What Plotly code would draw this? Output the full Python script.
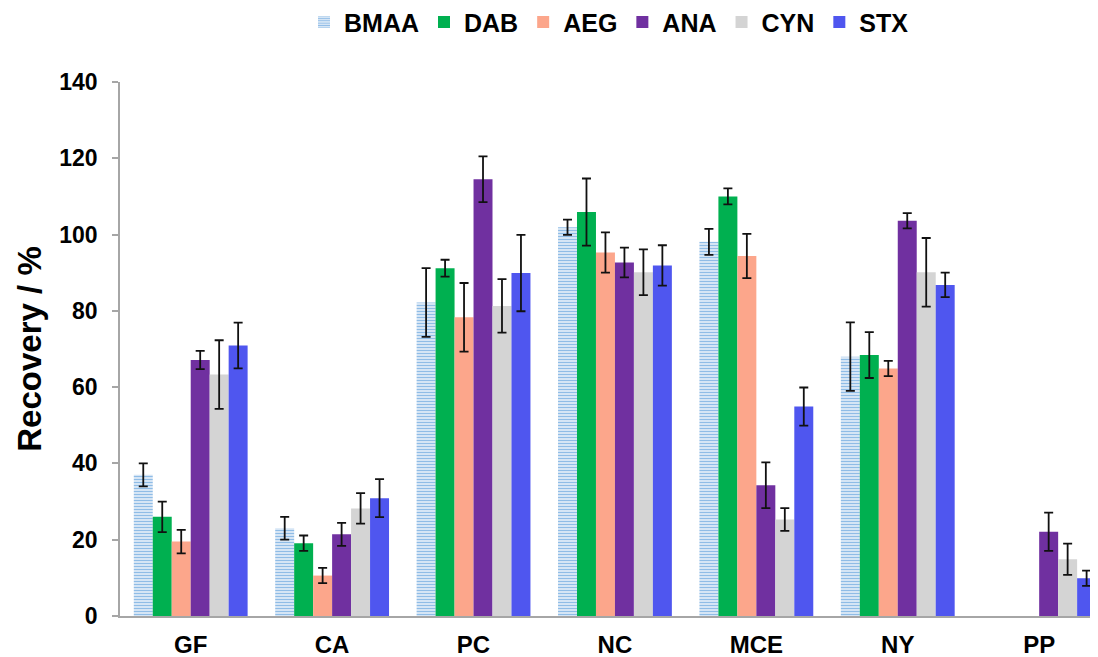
import plotly.graph_objects as go

categories = ["GF", "CA", "PC", "NC", "MCE", "NY", "PP"]
series_names = ["BMAA", "DAB", "AEG", "ANA", "CYN", "STX"]

# None = not recovered (no bar drawn)
bmaa = [37.0, 23.0, 82.2, 101.9, 98.1, 68.0, None]
bmaa_err = [3.0, 3.0, 9.0, 2.0, 3.4, 9.0, None]
dab = [26.0, 19.1, 91.2, 105.9, 110.0, 68.4, None]
dab_err = [4.0, 2.0, 2.2, 8.8, 2.1, 6.0, None]
aeg = [19.5, 10.6, 78.3, 95.3, 94.4, 64.9, None]
aeg_err = [3.1, 2.0, 9.0, 5.3, 5.8, 2.0, None]
ana = [67.1, 21.4, 114.5, 92.7, 34.3, 103.6, 22.1]
ana_err = [2.4, 3.0, 6.0, 3.9, 6.0, 2.0, 5.0]
cyn = [63.3, 28.2, 81.3, 90.1, 25.3, 90.1, 14.9]
cyn_err = [9.0, 4.0, 7.0, 6.0, 3.0, 9.0, 4.1]
stx = [70.9, 30.9, 89.9, 91.9, 54.9, 86.8, 9.9]
stx_err = [6.0, 5.0, 10.0, 5.3, 5.0, 3.2, 2.0]

values = [bmaa, dab, aeg, ana, cyn, stx]
errors = [bmaa_err, dab_err, aeg_err, ana_err, cyn_err, stx_err]
colors = ["#d9e8f7", "#00b050", "#fca68b", "#7030a0", "#d4d4d4", "#4f56ef"]

FONT = "Arial, Liberation Sans, sans-serif"

fig = go.Figure()
for i, name in enumerate(series_names):
    marker = dict(color=colors[i], line=dict(width=0))
    if name == "BMAA":
        marker["pattern"] = dict(shape="-", size=3, solidity=0.45,
                                 fgcolor="#8fbce6", bgcolor="#e4eef9",
                                 fillmode="replace")
    fig.add_trace(go.Bar(
        name=name,
        x=categories,
        y=values[i],
        marker=marker,
        error_y=dict(type="data", array=errors[i],
                     visible=True, color="#111111", thickness=1.8, width=4.5),
    ))

# the page body adds an 8 px offset, so the figure is drawn 8 px smaller
fig.update_layout(
    width=1090, height=649,
    barmode="group",
    bargap=0.195,
    bargroupgap=0,
    plot_bgcolor="white",
    paper_bgcolor="white",
    margin=dict(l=112, r=0, t=74, b=41, pad=0, autoexpand=False),
    font=dict(family=FONT, size=20, color="black"),
    legend=dict(orientation="h", x=0.5, xref="paper", xanchor="center",
                y=1.112, yref="paper", yanchor="middle",
                font=dict(family=FONT, size=25, color="black", weight="bold"),
                itemwidth=30, tracegroupgap=0),
    showlegend=True,
)
fig.update_xaxes(
    type="category",
    range=[-0.5, 6.416],
    automargin=False,
    showline=True, linecolor="#a6a6a6", linewidth=1.5,
    ticks="", showgrid=False, zeroline=False,
    tickfont=dict(family=FONT, size=24, color="black", weight="bold"),
    ticklabelstandoff=6,
)
fig.update_yaxes(
    range=[0, 140],
    automargin=False,
    tickvals=[0, 20, 40, 60, 80, 100, 120, 140],
    showline=True, linecolor="#a6a6a6", linewidth=1.5,
    ticks="outside", ticklen=6, tickcolor="#a6a6a6", tickwidth=1.5,
    showgrid=False, zeroline=False,
    tickfont=dict(family=FONT, size=23, color="black", weight="bold"),
    ticklabelstandoff=10,
    title=dict(text="Recovery / %", standoff=8,
               font=dict(family=FONT, size=33, color="black", weight="bold")),
)

fig.write_html("out.html")
